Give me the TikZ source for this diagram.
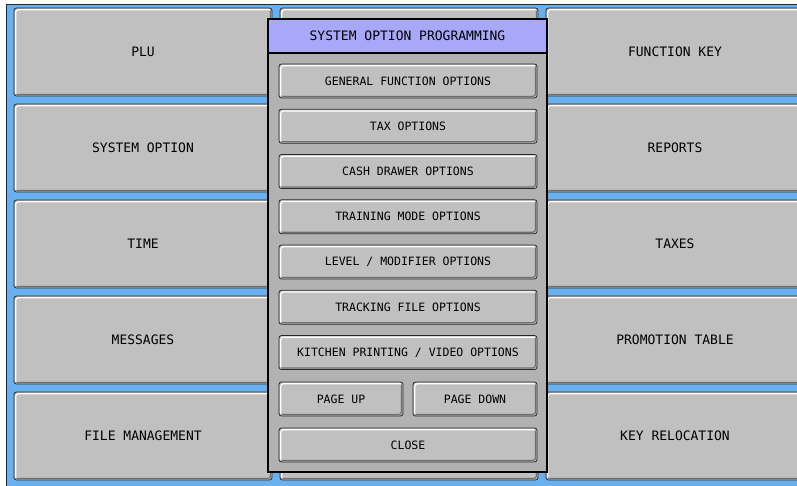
\documentclass[tikz,border=0pt]{standalone}
\usepackage{fontspec}
\newfontfamily\keyfont{DejaVu Sans Mono}
\definecolor{screenblue}{RGB}{104,176,240}
\definecolor{keygray}{RGB}{192,192,192}
\definecolor{keyedge}{RGB}{40,40,40}
\definecolor{keyshade}{RGB}{112,112,112}
\definecolor{dlggray}{RGB}{178,178,178}
\definecolor{titlelav}{RGB}{168,168,248}

\tikzset{
  keylight/.style={path picture={
      \draw[white,line width=1.2pt] ([shift={(1.8pt,2.5pt)}]path picture bounding box.south west)
        |- ([shift={(-2.5pt,-1.8pt)}]path picture bounding box.north east);
      \draw[keyshade,line width=1.2pt] ([shift={(2.5pt,1.6pt)}]path picture bounding box.south west)
        -| ([shift={(-1.6pt,-2.5pt)}]path picture bounding box.north east);}},
  mainkey/.style={draw=keyedge,fill=keygray,line width=0.8pt,rounded corners=2.5pt,
    minimum width=258pt,minimum height=88pt,inner sep=0pt,
    font=\keyfont\fontsize{13}{15}\selectfont,keylight},
  dlgkey/.style={mainkey,minimum height=34pt,font=\keyfont\fontsize{11.5}{13}\selectfont}
}

\begin{document}
\begin{tikzpicture}[x=1pt,y=-1pt]
  \useasboundingbox (0,0) rectangle (797,485);
  \fill[white] (0,0) rectangle (797,485);
  \draw[keyedge,fill=screenblue,line width=0.8pt] (6,4) rectangle (812,497);

  % main menu keys
  \foreach \lbl [count=\r from 0] in {PLU,SYSTEM OPTION,TIME,MESSAGES,FILE MANAGEMENT}
    \node[mainkey] (left\r) at (143,{52+96*\r}) {\lbl};
  \foreach \r in {0,...,4}
    \node[mainkey] (mid\r) at (409,{52+96*\r}) {};
  \foreach \lbl [count=\r from 0] in {FUNCTION KEY,REPORTS,TAXES,PROMOTION TABLE,KEY RELOCATION}
    \node[mainkey] (right\r) at (675,{52+96*\r}) {\lbl};

  % dialog
  \node[draw=black,fill=dlggray,line width=1.2pt,minimum width=279pt,minimum height=453pt,
    inner sep=0pt] (dialog) at (407.5,245.5) {};
  \node[draw=black,fill=titlelav,line width=1.2pt,minimum width=279pt,minimum height=34pt,
    inner sep=0pt,anchor=north,font=\keyfont\fontsize{13}{15}\selectfont] (title)
    at (dialog.north) {SYSTEM OPTION PROGRAMMING};
  \foreach \lbl [count=\i from 0] in {GENERAL FUNCTION OPTIONS,TAX OPTIONS,CASH DRAWER OPTIONS,
      TRAINING MODE OPTIONS,LEVEL / MODIFIER OPTIONS,TRACKING FILE OPTIONS,
      KITCHEN PRINTING / VIDEO OPTIONS}
    \node[dlgkey] (opt\i) at (408,{81+45.25*\i}) {\lbl};
  \node[dlgkey,minimum width=124pt] (pageup) at (341,399) {PAGE UP};
  \node[dlgkey,minimum width=124pt] (pagedown) at (475,399) {PAGE DOWN};
  \node[dlgkey] (close) at (408,445) {CLOSE};
\end{tikzpicture}
\end{document}
